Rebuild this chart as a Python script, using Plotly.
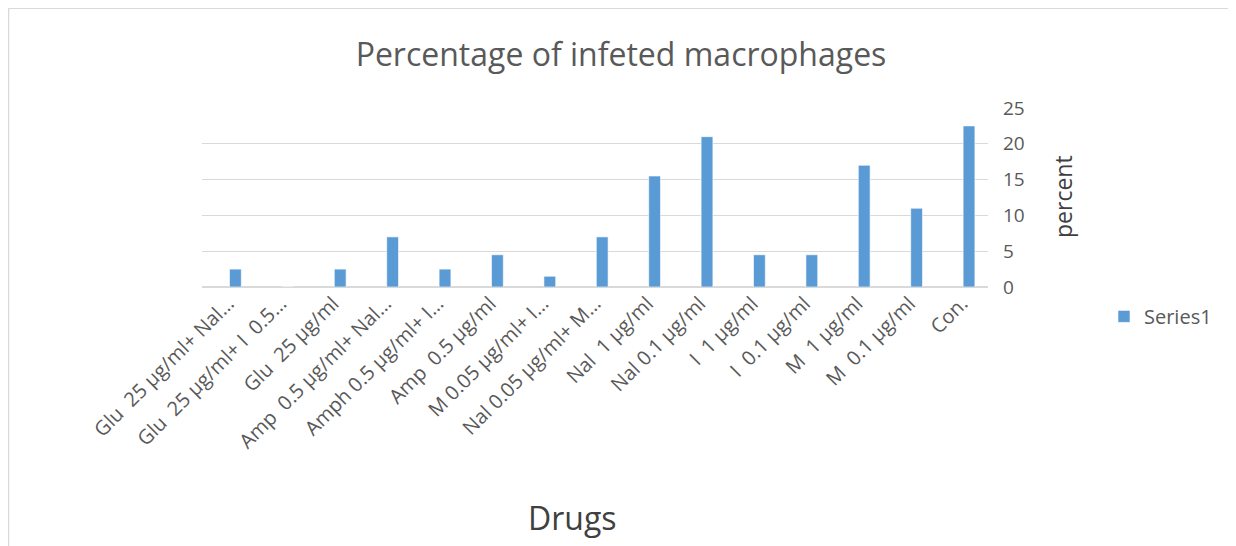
import plotly.graph_objects as go

categories = [
    "Glu\u00a0 25 µg/ml+ Nal…",
    "Glu\u00a0 25 µg/ml+ I\u00a0 0.5…",
    "Glu\u00a0 25 µg/ml",
    "Amp\u00a0 0.5 µg/ml+ Nal…",
    "Amph 0.5 µg/ml+ I…",
    "Amp\u00a0 0.5 µg/ml",
    "M 0.05 µg/ml+ I…",
    "Nal 0.05 µg/ml+ M…",
    "Nal\u00a0 1 µg/ml",
    "Nal 0.1 µg/ml",
    "I\u00a0 1 µg/ml",
    "I\u00a0 0.1 µg/ml",
    "M\u00a0 1 µg/ml",
    "M\u00a0 0.1 µg/ml",
    "Con.",
]
series1 = [2.5, 0, 2.5, 7, 2.5, 4.5, 1.5, 7, 15.5, 21, 4.5, 4.5, 17, 11, 22.5]
y_ticks = [0, 5, 10, 15, 20, 25]

FONT = "Open Sans"
GRAY = "#595959"
DARK = "#404040"

# page offset (body margin) is 8px
OFF = 8
W, H = 1228, 538
L, T = 194, 100.3
pw, ph = 786, 178.4
R = W - L - pw
B = H - T - ph


def px(page_x):
    return (page_x - OFF - L) / pw


def py(page_y):
    return (T + ph - (page_y - OFF)) / ph


fig = go.Figure()
fig.add_trace(go.Bar(
    x=categories, y=series1, name="Series1",
    marker=dict(color="#5b9bd5", line=dict(color="#ffffff", width=0.6)),
    width=0.225, offset=0.025,
))

border = dict(color="#d9d9d9", width=1.5)

fig.update_layout(
    width=W, height=H,
    margin=dict(l=L, r=R, t=T, b=B, autoexpand=False),
    paper_bgcolor="white", plot_bgcolor="white",
    font=dict(family=FONT, color=GRAY, size=19),
    title=dict(text="Percentage of infeted macrophages",
               x=(621 - OFF) / W, xref="container", xanchor="center",
               y=1 - (55 - OFF) / H, yref="container", yanchor="middle",
               font=dict(family=FONT, size=32, color=GRAY)),
    showlegend=True,
    legend=dict(x=px(1104), y=py(316), xanchor="left", yanchor="middle",
                font=dict(family=FONT, size=20, color=GRAY),
                bgcolor="rgba(0,0,0,0)", itemwidth=30),
    xaxis=dict(
        tickangle=-45, tickfont=dict(family=FONT, size=20, color=GRAY),
        showgrid=False, showline=False, ticks="", zeroline=False,
        automargin=False,
    ),
    yaxis=dict(
        side="right", range=[0, 25], tickvals=y_ticks,
        tickfont=dict(family=FONT, size=19, color=GRAY),
        showgrid=True, gridcolor="#d9d9d9", gridwidth=1,
        zeroline=True, zerolinecolor="#d9d9d9", zerolinewidth=1.5,
        showline=False, ticks="", ticklabelstandoff=14, automargin=False,
    ),
    annotations=[
        dict(text="Drugs", xref="paper", yref="paper", x=px(572), y=py(516),
             xanchor="center", yanchor="middle", showarrow=False,
             font=dict(family=FONT, size=32, color=DARK)),
        dict(text="percent", xref="paper", yref="paper", x=px(1063), y=py(197),
             xanchor="center", yanchor="middle", showarrow=False, textangle=-90,
             font=dict(family=FONT, size=23, color=DARK)),
    ],
    shapes=[
        dict(type="line", xref="paper", yref="paper",
             x0=px(8.5), x1=px(1240), y0=py(9), y1=py(9), line=border, layer="below"),
        dict(type="line", xref="paper", yref="paper",
             x0=px(8.5), x1=px(8.5), y0=py(9), y1=py(560), line=border, layer="below"),
    ],
)

fig.write_html("out.html")
